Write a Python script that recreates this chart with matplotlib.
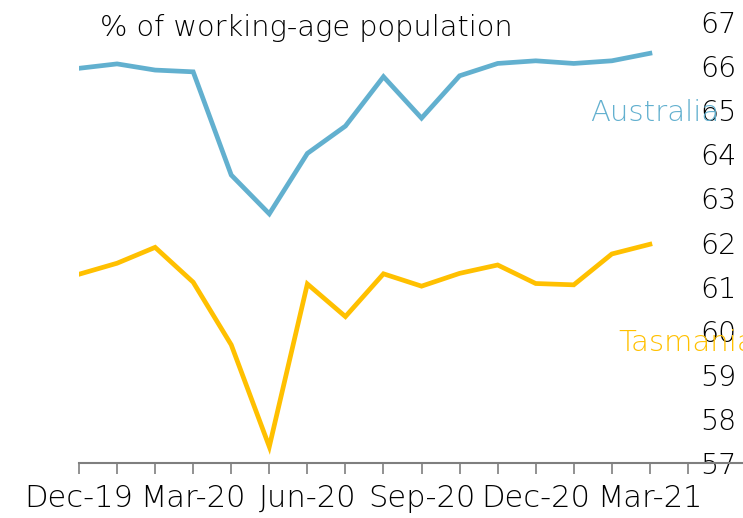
import matplotlib
matplotlib.use("Agg")
import matplotlib.pyplot as plt
import matplotlib.transforms as mtransforms
import numpy as np

months = ["Dec-19", "Jan-20", "Feb-20", "Mar-20", "Apr-20", "May-20", "Jun-20",
          "Jul-20", "Aug-20", "Sep-20", "Oct-20", "Nov-20", "Dec-20", "Jan-21",
          "Feb-21", "Mar-21"]
australia = [65.95, 66.05, 65.91, 65.87, 63.53, 62.65, 64.02, 64.64, 65.76,
             64.82, 65.78, 66.06, 66.12, 66.06, 66.12, 66.29]
tasmania = [61.28, 61.53, 61.89, 61.10, 59.68, 57.37, 61.06, 60.32, 61.29,
            61.01, 61.30, 61.49, 61.07, 61.04, 61.74, 61.96]
tick_labels = ["Dec-19", "", "", "Mar-20", "", "", "Jun-20", "", "", "Sep-20",
               "", "", "Dec-20", "", "", "Mar-21", ""]
yticks = [57, 58, 59, 60, 61, 62, 63, 64, 65, 66, 67]

plt.rcParams['font.family'] = ['DejaVu Sans']
plt.rcParams['font.weight'] = 'light'

W, H = 743, 518
fig = plt.figure(figsize=(W / 100, H / 100), dpi=100)
ax = fig.add_axes([79 / W, (H - 463) / H, (W - 79) / W, (463 - 22) / H])

blue = "#62B0CF"
yellow = "#FFC000"
x = np.arange(len(months))
ax.plot(x, australia, color=blue, lw=3.4, solid_joinstyle='miter')
ax.plot(x, tasmania, color=yellow, lw=3.4, solid_joinstyle='miter')

ax.set_ylim(57, 67)
ax.set_xlim(0, (W - 79) / 38.06)
ax.set_xticks(np.arange(len(tick_labels)))
ax.set_xticklabels(tick_labels, fontsize=22)
shift = mtransforms.ScaledTranslation(-4 / 100, 0, fig.dpi_scale_trans)
for lbl in ax.get_xticklabels():
    lbl.set_transform(lbl.get_transform() + shift)
ax.set_yticks(yticks)
ax.set_yticklabels([str(v) for v in yticks], fontsize=20.5)

for s in ["left", "right", "top"]:
    ax.spines[s].set_visible(False)
ax.spines["bottom"].set_color("#7f7f7f")
ax.spines["bottom"].set_linewidth(1.5)
ax.tick_params(axis='x', direction='out', length=8, width=1.2, color="#7f7f7f", pad=7)
ax.tick_params(axis='y', left=False, labelleft=False, right=True, labelright=True,
               length=0, pad=-31)
ax.patch.set_alpha(0)

fig.text(100 / W, 1 - 28 / H, "% of working-age population", fontsize=20.8,
         va='center', ha='left', color="black")
fig.text(590 / W, 1 - 113 / H, "Australia", fontsize=21, va='center', ha='left', color=blue)
fig.text(618 / W, 1 - 343 / H, "Tasmania", fontsize=21, va='center', ha='left', color=yellow)

fig.savefig("out.png", dpi=100)
